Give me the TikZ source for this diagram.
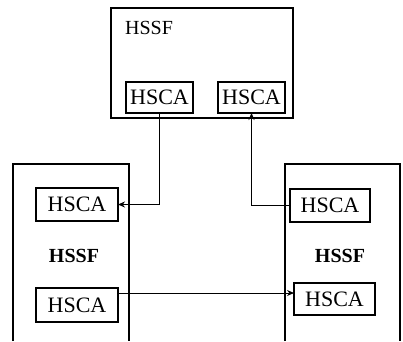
\documentclass[tikz,border=0pt]{standalone}
\usepackage{fontspec}
\setmainfont{Liberation Serif}
\usetikzlibrary{arrows.meta}
\begin{document}
\begin{tikzpicture}[x=1pt,y=-1pt,
  outer/.style={inner sep=0pt,outer sep=0pt},
  hsca/.style={draw,line width=1.2pt,inner sep=0pt,outer sep=0pt,font=\fontsize{22}{24}\selectfont},
  hssf/.style={inner sep=0pt,font=\fontsize{20}{22}\selectfont},
  hssfb/.style={inner sep=0pt,font=\fontsize{20}{22}\selectfont\bfseries},
  conn/.style={line width=0.9pt,-{Stealth[length=7pt,width=6pt]}},
  frame/.style={line width=1.1pt}]
\useasboundingbox (0,0) rectangle (403,341);
% top block
\node[outer,draw,frame,minimum width=182pt,minimum height=110pt] (T) at (202,63) {};
\node[hssf] (TH) at (149,28) {HSSF};
\node[hsca,minimum width=67pt,minimum height=31pt] (TL) at (159.5,97.5) {HSCA};
\node[hsca,minimum width=67pt,minimum height=31pt] (TR) at (251.5,97.5) {HSCA};
% left block
\node[outer,minimum width=116pt,minimum height=177pt] (L) at (71,252.5) {};
\draw[frame] (L.south west) -- (L.north west) -- (L.north east) -- (L.south east);
\node[hsca,minimum width=82pt,minimum height=33pt] (LT) at (77,204.5) {HSCA};
\node[hssfb] (LH) at (74,256) {HSSF};
\node[hsca,minimum width=82pt,minimum height=34pt] (LB) at (77,305) {HSCA};
% right block
\node[outer,minimum width=115pt,minimum height=177pt] (R) at (342.5,252.5) {};
\draw[frame] (R.south west) -- (R.north west) -- (R.north east) -- (R.south east);
\node[hsca,minimum width=80pt,minimum height=33pt] (RT) at (330,205.5) {HSCA};
\node[hssfb] (RH) at (340,256) {HSSF};
\node[hsca,minimum width=81pt,minimum height=32pt] (RB) at (334.5,299) {HSCA};
% connectors
\draw[conn] (TL.south) |- (LT.east);
\draw[conn] (RT.west) -| (TR.south);
\coordinate (m) at (0,293);
\draw[conn] (LB.east |- m) -- (RB.west |- m);
\end{tikzpicture}
\end{document}
